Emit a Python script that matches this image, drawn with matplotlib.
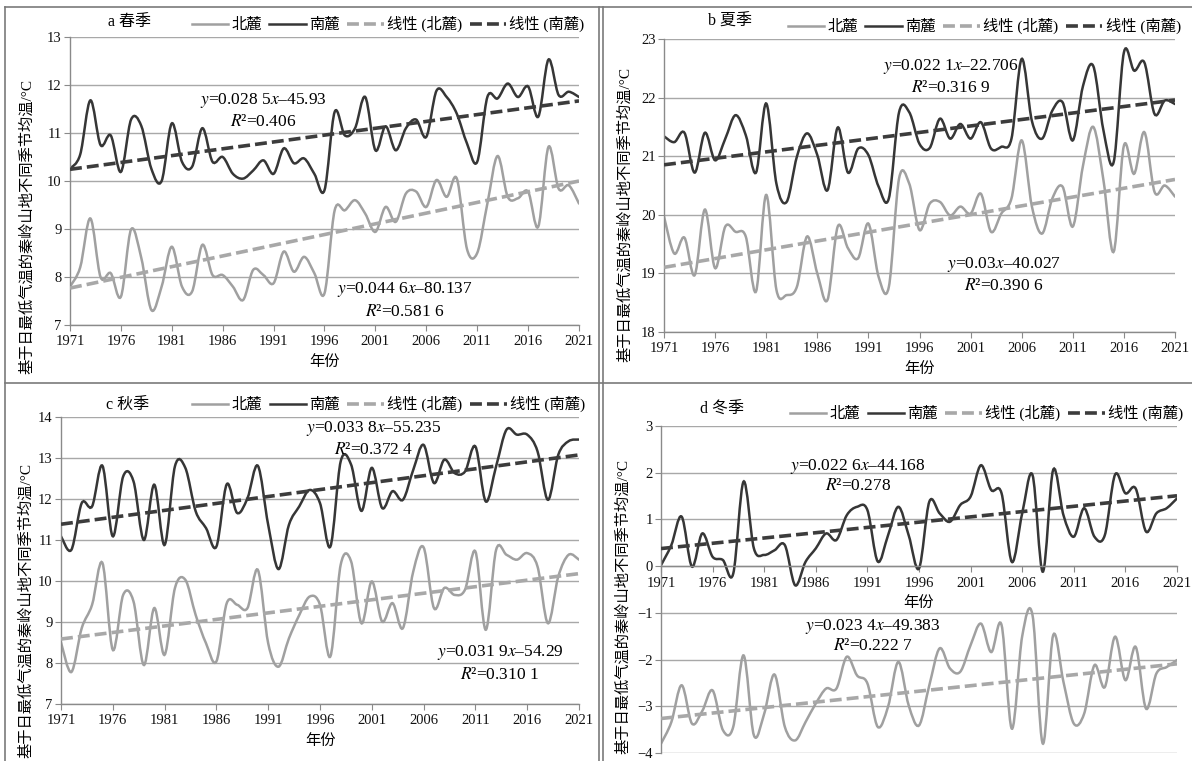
import matplotlib
matplotlib.use("Agg")

import numpy as np
import matplotlib.pyplot as plt
from matplotlib.path import Path
from matplotlib.patches import PathPatch
from matplotlib.lines import Line2D

plt.rcParams["font.family"] = ["Liberation Serif", "Noto Sans CJK SC"]
plt.rcParams["mathtext.fontset"] = "stix"
plt.rcParams["axes.unicode_minus"] = True

years = np.arange(1971, 2022)

# seasonal mean of daily minimum temperature, north / south slope (°C)
spring_north = [7.8, 8.2, 9.22, 8.0, 8.08, 7.59, 8.99, 8.4, 7.31, 7.8,
                8.63, 7.8, 7.7, 8.67, 8.04, 8.04, 7.8, 7.52, 8.15, 8.04,
                7.87, 8.53, 8.11, 8.42, 8.08, 7.66, 9.39, 9.39, 9.6, 9.32,
                8.94, 9.46, 9.15, 9.74, 9.78, 9.46, 10.02, 9.67, 10.05, 8.58,
                8.5, 9.53, 10.52, 9.67, 9.64, 9.78, 9.05, 10.71, 9.84, 9.91, 9.53]
spring_south = [10.26, 10.55, 11.68, 10.75, 10.95, 10.19, 11.28, 11.15, 10.25, 10.0,
                11.2, 10.4, 10.3, 11.1, 10.4, 10.5, 10.15, 10.05, 10.22, 10.43,
                10.15, 10.68, 10.37, 10.47, 10.15, 9.81, 11.44, 10.95, 11.1, 11.75,
                10.64, 11.14, 10.64, 11.1, 11.28, 10.92, 11.88, 11.75, 11.4, 10.78,
                10.4, 11.75, 11.72, 12.03, 11.75, 11.97, 11.34, 12.53, 11.79, 11.86, 11.75]

summer_north = [19.97, 19.34, 19.61, 18.97, 20.09, 19.09, 19.8, 19.71, 19.63, 18.69,
                20.34, 18.72, 18.63, 18.77, 19.63, 19.0, 18.55, 19.8, 19.43, 19.26,
                19.85, 18.94, 18.77, 20.62, 20.53, 19.74, 20.19, 20.22, 19.99, 20.14,
                20.02, 20.36, 19.71, 20.02, 20.28, 21.27, 20.14, 19.68, 20.28, 20.48,
                19.8, 20.84, 21.5, 20.59, 19.37, 21.18, 20.7, 21.41, 20.39, 20.5, 20.31]
summer_south = [21.34, 21.24, 21.4, 20.72, 21.4, 20.93, 21.3, 21.7, 21.36, 20.72,
                21.9, 20.53, 20.22, 20.99, 21.39, 21.02, 20.42, 21.49, 20.72, 21.13,
                21.02, 20.48, 20.28, 21.75, 21.75, 21.21, 21.14, 21.64, 21.3, 21.55,
                21.3, 21.58, 21.13, 21.16, 21.3, 22.66, 21.6, 21.3, 21.78, 21.92,
                21.27, 22.2, 22.54, 21.44, 20.9, 22.77, 22.46, 22.6, 21.72, 21.95, 21.89]

autumn_north = [8.5, 7.78, 8.85, 9.42, 10.44, 8.32, 9.66, 9.5, 7.95, 9.34,
                8.2, 9.83, 10.03, 9.17, 8.48, 8.04, 9.46, 9.42, 9.34, 10.27,
                8.48, 7.91, 8.6, 9.17, 9.62, 9.42, 8.16, 10.4, 10.48, 8.97,
                9.99, 9.01, 9.46, 8.85, 10.23, 10.82, 9.34, 9.83, 9.66, 9.79,
                10.72, 8.81, 10.76, 10.64, 10.52, 10.68, 10.35, 8.97, 10.11, 10.64, 10.52]
autumn_south = [11.09, 10.76, 11.9, 11.82, 12.81, 11.09, 12.55, 12.43, 11.0, 12.35,
                10.88, 12.8, 12.76, 11.7, 11.29, 10.84, 12.36, 11.66, 12.02, 12.81,
                11.37, 10.29, 11.37, 11.82, 12.22, 11.9, 10.84, 12.92, 12.84, 11.71,
                12.76, 11.78, 12.19, 11.98, 12.71, 13.32, 12.39, 12.96, 12.63, 12.67,
                13.28, 11.94, 12.8, 13.69, 13.57, 13.57, 13.16, 11.98, 13.08, 13.41, 13.45]

winter_north = [-3.8, -3.34, -2.55, -3.37, -3.1, -2.66, -3.51, -3.44, -1.91, -3.62,
                -3.16, -2.32, -3.44, -3.73, -3.34, -2.94, -2.62, -2.62, -1.94, -2.34,
                -2.51, -3.44, -3.01, -2.05, -2.98, -3.41, -2.55, -1.76, -2.19, -2.26,
                -1.69, -1.23, -1.84, -1.26, -3.48, -1.5, -1.05, -3.8, -1.48, -2.48,
                -3.37, -3.16, -2.12, -2.59, -1.51, -2.44, -1.73, -3.05, -2.3, -2.16, -2.01]
winter_south = [0.02, 0.45, 1.06, -0.01, 0.7, 0.2, 0.13, -0.16, 1.81, 0.38,
                0.24, 0.34, 0.45, -0.41, 0.09, 0.38, 0.7, 0.56, 1.09, 1.27,
                1.2, 0.1, 0.66, 1.27, 0.66, -0.05, 1.38, 1.13, 0.95, 1.31,
                1.49, 2.16, 1.63, 1.56, 0.09, 1.13, 1.95, -0.12, 2.06, 1.09,
                0.63, 1.24, 0.63, 0.66, 1.96, 1.56, 1.66, 0.74, 1.13, 1.24, 1.45]

# linear fits (slope, intercept) and their printed forms
fit_north = [(0.0446, -80.137), (0.03, -40.027), (0.0319, -54.29), (0.0234, -49.383)]
fit_south = [(0.0285, -45.93), (0.0221, -22.706), (0.0338, -55.235), (0.0226, -44.168)]
eq_north = [r"$y$=0.044 6$x$–80.137", r"$y$=0.03$x$–40.027",
            r"$y$=0.031 9$x$–54.29", r"$y$=0.023 4$x$–49.383"]
r2_north = [r"$R$²=0.581 6", r"$R$²=0.390 6", r"$R$²=0.310 1", r"$R$²=0.222 7"]
eq_south = [r"$y$=0.028 5$x$–45.93", r"$y$=0.022 1$x$–22.706",
            r"$y$=0.033 8$x$–55.235", r"$y$=0.022 6$x$–44.168"]
r2_south = [r"$R$²=0.406", r"$R$²=0.316 9", r"$R$²=0.372 4", r"$R$²=0.278"]

titles = ["a 春季", "b 夏季", "c 秋季", "d 冬季"]
legend_labels = ["北麓", "南麓", "线性 (北麓)", "线性 (南麓)"]
ylabel = "基于日最低气温的秦岭山地不同季节均温/°C"
xlabel = "年份"

north = [spring_north, summer_north, autumn_north, winter_north]
south = [spring_south, summer_south, autumn_south, winter_south]
ylims = [(7, 13), (18, 23), (7, 14), (-4, 3)]

W, H = 1192, 761
LIGHT = "#a0a0a0"
DARK = "#363636"
GRID = "#a8a8a8"
SPINE = "#8a8a8a"

# pixel layout: axes box (left, top, right, bottom), title, ylabel,
# equation anchors (x, y, gap to the R² line)
layout = [
    dict(box=(70, 37, 579, 325), title=(130, 22), ylab=(27, 226),
         eq_s=(263, 100, 22), eq_n=(405, 290, 22)),
    dict(box=(664, 39, 1175, 332), title=(730, 22), ylab=(625, 215),
         eq_s=(951, 66, 22), eq_n=(1004, 265, 21)),
    dict(box=(61, 417, 579, 704), title=(128, 405), ylab=(26, 611),
         eq_s=(374, 428, 22), eq_n=(500, 652, 23)),
    dict(box=(661, 426, 1177, 753), title=(722, 410), ylab=(623, 607),
         eq_s=(858, 467, 19), eq_n=(873, 627, 19)),
]


def fx(x):
    return x / W


def fy(y):
    return 1 - y / H


def smooth_path(x, y):
    # cubic Bezier through every point, tangents from neighbours (Catmull-Rom, 1/6)
    x = np.asarray(x, float)
    y = np.asarray(y, float)
    px = np.concatenate([[x[0]], x, [x[-1]]])
    py = np.concatenate([[y[0]], y, [y[-1]]])
    verts = [(x[0], y[0])]
    codes = [Path.MOVETO]
    for i in range(1, len(x)):
        c1 = (px[i] + (px[i + 1] - px[i - 1]) / 6, py[i] + (py[i + 1] - py[i - 1]) / 6)
        c2 = (px[i + 1] - (px[i + 2] - px[i]) / 6, py[i + 1] - (py[i + 2] - py[i]) / 6)
        verts += [c1, c2, (px[i + 1], py[i + 1])]
        codes += [Path.CURVE4] * 3
    return Path(verts, codes)


fig = plt.figure(figsize=(W / 100, H / 100), dpi=100)

for i in range(4):
    lay = layout[i]
    l, t, r, b = lay["box"]
    ax = fig.add_axes([fx(l), fy(b), (r - l) / W, (b - t) / H])
    lo, hi = ylims[i]

    ax.add_patch(PathPatch(smooth_path(years, north[i]), fill=False,
                           edgecolor=LIGHT, lw=1.8, zorder=2, capstyle="round"))
    ax.add_patch(PathPatch(smooth_path(years, south[i]), fill=False,
                           edgecolor=DARK, lw=1.8, zorder=2, capstyle="round"))

    kn, bn = fit_north[i]
    ks, bs = fit_south[i]
    ax.plot(years, kn * years + bn, color="#a8a8a8", lw=2.6,
            ls=(0, (3.3, 1.4)), zorder=3)
    ax.plot(years, ks * years + bs, color="#3c3c3c", lw=2.6,
            ls=(0, (3.3, 1.4)), zorder=3)

    ax.set_xlim(1971, 2021)
    ax.set_ylim(lo, hi)
    ax.set_xticks(np.arange(1971, 2022, 5))
    ax.set_yticks(np.arange(lo, hi + 1, 1))
    ax.grid(axis="y", color=GRID, lw=1.0)
    ax.set_axisbelow(True)
    for side in ("top", "right"):
        ax.spines[side].set_visible(False)
    for side in ("left", "bottom"):
        ax.spines[side].set_color(SPINE)
        ax.spines[side].set_linewidth(1.0)
    if lo < 0 < hi:
        ax.spines["bottom"].set_position(("data", 0))
    ax.tick_params(direction="out", length=4, color=SPINE, labelsize=10.5,
                   pad=2, labelcolor="#111111")
    ax.tick_params(axis="x", pad=3.5)
    ax.set_xlabel(xlabel, fontsize=11, labelpad=5)

    handles = [Line2D([], [], color=LIGHT, lw=1.8),
               Line2D([], [], color=DARK, lw=1.8),
               Line2D([], [], color="#a8a8a8", lw=2.6, ls=(0, (3.3, 1.4))),
               Line2D([], [], color="#3c3c3c", lw=2.6, ls=(0, (3.3, 1.4)))]
    ax.legend(handles, legend_labels, loc="lower right", bbox_to_anchor=(1.02, 1.0),
              ncol=4, frameon=False, fontsize=11, handlelength=2.4,
              handletextpad=0.2, columnspacing=0.5, borderpad=0.1,
              borderaxespad=0.2)

    fig.text(fx(lay["title"][0]), fy(lay["title"][1]), titles[i],
             ha="center", va="center", fontsize=11.5)
    fig.text(fx(lay["ylab"][0]), fy(lay["ylab"][1]), ylabel, rotation=90,
             ha="center", va="center", fontsize=11)

    sx, sy, sg = lay["eq_s"]
    fig.text(fx(sx), fy(sy), eq_south[i], ha="center", va="center", fontsize=12.5)
    fig.text(fx(sx), fy(sy + sg), r2_south[i], ha="center", va="center", fontsize=12.5)
    nx, ny, ng = lay["eq_n"]
    fig.text(fx(nx), fy(ny), eq_north[i], ha="center", va="center", fontsize=12.5)
    fig.text(fx(nx), fy(ny + ng), r2_north[i], ha="center", va="center", fontsize=12.5)

# panel frames
frame = dict(color="#7a7a7a", lw=1.2, transform=fig.transFigure)
fig.add_artist(Line2D([fx(5), 1], [fy(7), fy(7)], **frame))
fig.add_artist(Line2D([fx(5), fx(5)], [fy(7), 0], **frame))
fig.add_artist(Line2D([fx(599), fx(599)], [fy(7), 0], **frame))
fig.add_artist(Line2D([fx(602.5), fx(602.5)], [fy(7), 0], **frame))
fig.add_artist(Line2D([fx(5), 1], [fy(383), fy(383)], **frame))

fig.savefig("out.png", dpi=100)
plt.close(fig)
